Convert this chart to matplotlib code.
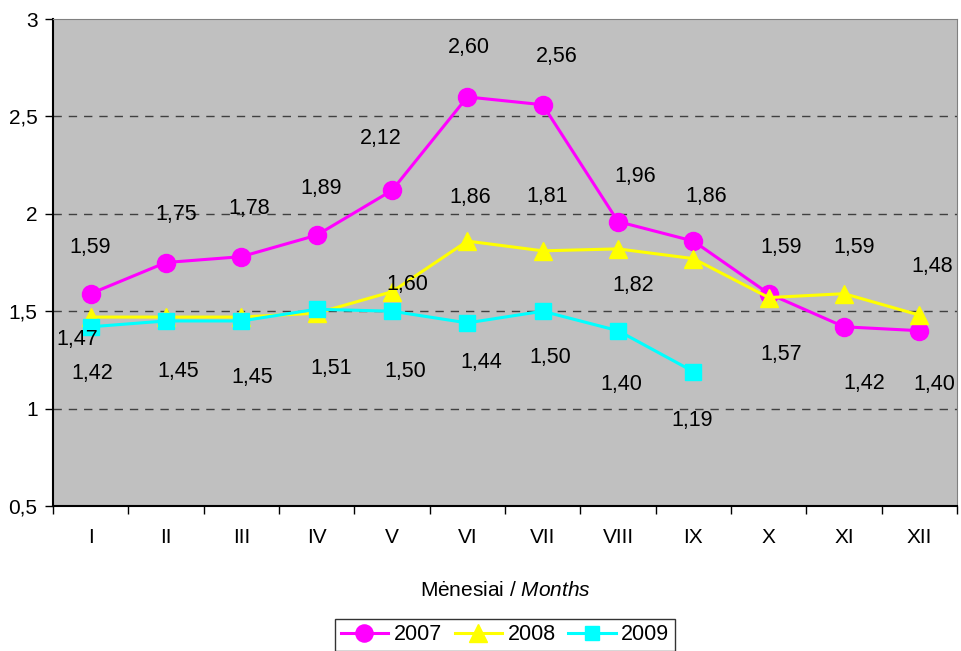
import numpy as np
import matplotlib.pyplot as plt

plt.rcParams['font.family'] = ['Liberation Sans', 'DejaVu Sans']
plt.rcParams['mathtext.fontset'] = 'custom'
plt.rcParams['mathtext.it'] = 'Liberation Sans:italic'
plt.rcParams['mathtext.rm'] = 'Liberation Sans'

months = ["I", "II", "III", "IV", "V", "VI", "VII", "VIII", "IX", "X", "XI", "XII"]
y2007 = [1.59, 1.75, 1.78, 1.89, 2.12, 2.60, 2.56, 1.96, 1.86, 1.59, 1.42, 1.40]
y2008 = [1.47, 1.47, 1.47, 1.49, 1.60, 1.86, 1.81, 1.82, 1.77, 1.57, 1.59, 1.48]
y2009 = [1.42, 1.45, 1.45, 1.51, 1.50, 1.44, 1.50, 1.40, 1.19, np.nan, np.nan, np.nan]

# which labels are shown (Excel hid the overlapping ones)
show2008 = [True, False, False, False, True, True, True, True, False, True, True, True]

# label offsets in pixels (dx, dy), placed by hand in the original
off2007 = [(0, 46), (10, 48), (8, 48), (5, 47), (-11, 52), (2, 49), (14, 48),
           (17, 45), (13, 45), (12, 46), (20, -57), (15, -54)]
off2008 = [(-13, -22), None, None, None, (15, 7), (3, 44), (4, 54), (15, -37),
           None, (12, -57), (10, 46), (13, 49)]
off2009 = [(2, -47), (12, -51), (11, -57), (15, -59), (13, -60), (14, -40),
           (8, -46), (3, -54), (-1, -49), None, None, None]

x = np.arange(len(months))

fig = plt.figure(figsize=(9.61, 6.51), dpi=100)
ax = fig.add_axes([0.055, 0.2227, 0.941, 0.7481])
ax.set_facecolor("#C0C0C0")

ax.plot(x, y2007, color="#FF00FF", lw=2.2, marker="o", ms=13, label="2007", zorder=3)
ax.plot(x, y2008, color="#FFFF00", lw=2.2, marker="^", ms=13, label="2008", zorder=4)
ax.plot(x, y2009, color="#00FFFF", lw=2.2, marker="s", ms=11, label="2009", zorder=5)


def put_labels(vals, offs):
    for i, v in enumerate(vals):
        if offs[i] is None or np.isnan(v):
            continue
        ax.annotate(f"{v:.2f}".replace(".", ","), (x[i], v), xytext=offs[i],
                    textcoords="offset pixels", ha="center", va="center",
                    fontsize=15.5, zorder=6)


put_labels(y2007, off2007)
put_labels(y2008, [o if s else None for o, s in zip(off2008, show2008)])
put_labels(y2009, off2009)

ax.set_xlim(-0.5, 11.5)
ax.set_ylim(0.5, 3)
ax.set_yticks([0.5, 1, 1.5, 2, 2.5, 3])
ax.set_yticklabels(["0,5", "1", "1,5", "2", "2,5", "3"], fontsize=15)
ax.set_xticks(x)
ax.set_xticklabels(months, fontsize=15)
ax.set_xticks(np.arange(-0.5, 12, 1), minor=True)
ax.tick_params(axis="x", which="major", length=0, pad=16)
ax.tick_params(axis="x", which="minor", length=6, width=1, color="black")
ax.tick_params(axis="y", length=6, width=1, pad=5)

for g in [1, 1.5, 2, 2.5]:
    ax.axhline(g, color="#404040", lw=1, ls=(0, (6, 5)), zorder=1)

ax.spines["left"].set_color("black")
ax.spines["bottom"].set_color("black")
ax.spines["left"].set_linewidth(1.5)
ax.spines["bottom"].set_linewidth(1.5)
ax.spines["top"].set_color("#808080")
ax.spines["right"].set_color("#808080")

ax.set_xlabel(r"Mėnesiai / $\it{Months}$", fontsize=15, labelpad=24)

leg = ax.legend(loc="upper center", bbox_to_anchor=(0.5, -0.21), ncol=3,
                fontsize=15.5, frameon=True, fancybox=False, edgecolor="black",
                handlelength=2.2, columnspacing=0.6, borderpad=0.25,
                handletextpad=0.25, markerscale=0.95)
leg.get_frame().set_linewidth(1)

fig.savefig("out.png", dpi=100)
